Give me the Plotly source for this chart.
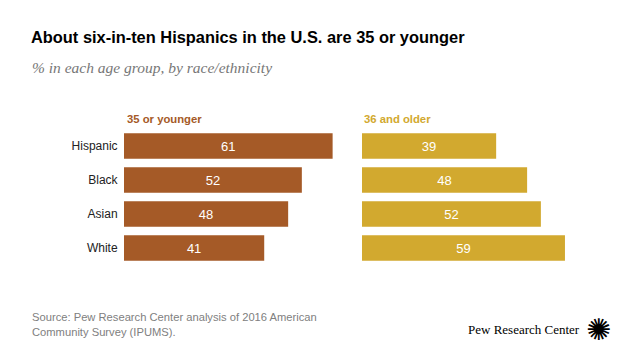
import plotly.graph_objects as go

categories = ["Hispanic", "Black", "Asian", "White"]
young = [61, 52, 48, 41]
older = [39, 48, 52, 59]
series_names = ["35 or younger", "36 and older"]

BROWN = "#A55A27"
GOLD = "#D2A92F"
W, H = 640, 360

def px_x(p):
    return p / W

def px_y(p):
    return 1 - p / H

fig = go.Figure()
fig.add_trace(go.Bar(
    x=young, y=categories, orientation="h", xaxis="x", yaxis="y",
    marker=dict(color=BROWN, line=dict(width=0)),
    text=[str(v) for v in young], textposition="inside", insidetextanchor="middle",
    textfont=dict(color="white", size=13, family="Liberation Sans, Arial"),
    hoverinfo="skip", showlegend=False,
))
fig.add_trace(go.Bar(
    x=older, y=categories, orientation="h", xaxis="x2", yaxis="y2",
    marker=dict(color=GOLD, line=dict(width=0)),
    text=[str(v) for v in older], textposition="inside", insidetextanchor="middle",
    textfont=dict(color="white", size=13, family="Liberation Sans, Arial"),
    hoverinfo="skip", showlegend=False,
))

ydom = [px_y(265), px_y(129)]
fig.update_layout(
    width=W, height=H,
    margin=dict(l=0, r=0, t=0, b=0),
    paper_bgcolor="white", plot_bgcolor="white",
    bargap=0.25,
    xaxis=dict(domain=[px_x(124), px_x(124 + 65 * 3.42)], range=[0, 65],
               visible=False, fixedrange=True),
    xaxis2=dict(domain=[px_x(362), px_x(362 + 65 * 3.44)], range=[0, 65],
                visible=False, fixedrange=True),
    yaxis=dict(domain=ydom, anchor="x", categoryorder="array", categoryarray=categories,
               autorange="reversed", showgrid=False, zeroline=False, showline=False,
               ticks="outside", ticklen=3, tickcolor="rgba(0,0,0,0)",
               tickfont=dict(size=12, color="#222", family="Liberation Sans, Arial")),
    yaxis2=dict(domain=ydom, anchor="x2", categoryorder="array", categoryarray=categories,
                autorange="reversed", showgrid=False, zeroline=False, showline=False,
                showticklabels=False),
    font=dict(family="Liberation Sans, Arial"),
)

ann = [
    dict(text="<b>About six-in-ten Hispanics in the U.S. are 35 or younger</b>",
         x=px_x(29), y=px_y(37), xanchor="left", yanchor="middle",
         font=dict(size=16.4, color="#000", family="Liberation Sans, Arial")),
    dict(text="<i>% in each age group, by race/ethnicity</i>",
         x=px_x(30), y=px_y(67), xanchor="left", yanchor="middle",
         font=dict(size=15.5, color="#777", family="Liberation Serif, Georgia, serif")),
    dict(text="<b>" + series_names[0] + "</b>",
         x=px_x(125), y=px_y(119), xanchor="left", yanchor="middle",
         font=dict(size=11.3, color=BROWN, family="Liberation Sans, Arial")),
    dict(text="<b>" + series_names[1] + "</b>",
         x=px_x(362), y=px_y(119), xanchor="left", yanchor="middle",
         font=dict(size=11.3, color=GOLD, family="Liberation Sans, Arial")),
    dict(text="Source: Pew Research Center analysis of 2016 American<br>Community Survey (IPUMS).",
         x=px_x(30), y=px_y(324), xanchor="left", yanchor="middle", align="left",
         font=dict(size=11.2, color="#808080", family="Liberation Sans, Arial")),
    dict(text="Pew Research Center",
         x=px_x(582), y=px_y(329), xanchor="right", yanchor="middle",
         font=dict(size=13, color="#000", family="Liberation Serif, serif")),
    dict(text="\u273A",
         x=px_x(598), y=px_y(329), xanchor="center", yanchor="middle",
         font=dict(size=30, color="#000", family="DejaVu Sans")),
]
fig.update_layout(annotations=[dict(a, xref="paper", yref="paper", showarrow=False) for a in ann])

fig.write_html("out.html", config={"displayModeBar": False},
               post_script="document.body.style.margin='0';document.body.style.overflow='hidden';")
